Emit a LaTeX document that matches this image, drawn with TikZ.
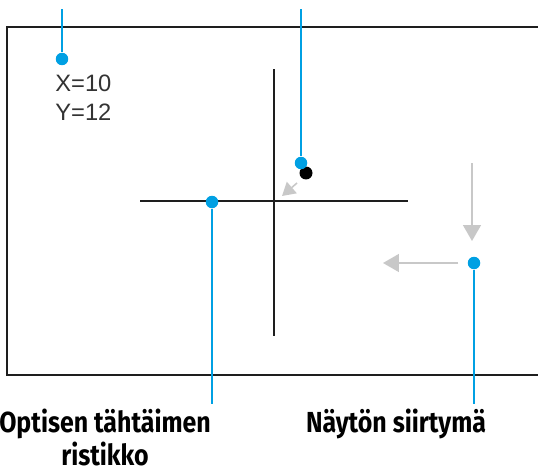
\documentclass[tikz,border=0pt]{standalone}
\usepackage{fontspec}
\usepackage{tikz}
\usetikzlibrary{arrows.meta,calc,positioning}
\setmainfont{Liberation Sans}
\newfontfamily\otsikko[FakeStretch=0.86]{Fira Sans}
\definecolor{kuvablue}{RGB}{0,160,227}
\definecolor{nuoligray}{RGB}{200,200,200}
\definecolor{viiva}{RGB}{30,30,30}
\tikzset{
  kehys/.style={
    draw=viiva,
    line width=1.4pt
  },
  risti/.style={
    draw=viiva,
    line width=1.1pt
  },
  piste/.style={
    circle,
    fill=kuvablue,
    inner sep=0pt,
    minimum size=.25cm
  },
  tahti/.style={
    circle,
    fill=black,
    inner sep=0pt,
    minimum size=.26cm
  },
  johto/.style={
    draw=kuvablue,
    line width=1.4pt
  },
  siirto/.style={
    -{Triangle[length=3.2mm,width=3.6mm]},
    draw=nuoligray,
    fill=nuoligray,
    line width=.9pt
  },
  arvo/.style={
    anchor=north west,
    inner sep=0pt,
    align=left,
    text=black!80,
    font=\fontsize{13.5}{16}\selectfont
  },
  selite/.style={
    anchor=north,
    inner sep=0pt,
    align=center,
    font=\otsikko\bfseries\fontsize{16.5}{18.3}\selectfont
  }
}

\begin{document}
\begin{tikzpicture}[x=.02cm,y=-.02cm]
\useasboundingbox (0,0) rectangle (538,470);
% naytto
\draw[kehys] (538,27) -- (7,27) -- (7,375) -- (538,375);
% ristikko
\draw[risti] (274,69) -- (274,336);
\draw[risti] (140,201) -- (408,201);
% pisteet
\node[piste] (xy) at (62,59) {};
\node[arvo] (koord) at (55,75) {X=10\\Y=12};
\node[tahti] (osuma) at (306,173) {};
\node[piste] (kohde) at (301,163) {};
\node[piste] (keski) at (212,202) {};
\node[piste] (siirt) at (474,263) {};
% siirtymanuolet
\draw[siirto, -{Triangle[length=2.6mm,width=3mm]}] (297,183) -- (282,196);
\draw[siirto] (472,163) -- (472,241);
\draw[siirto] (458,263) -- (383,263);
% johdot
\coordinate (y1) at (62,9);
\coordinate (y2) at (301,9);
\coordinate (a1) at (212,404);
\coordinate (a2) at (474,404);
\draw[johto] (y1) -- (xy);
\draw[johto] (y2) -- (kohde);
\draw[johto] (keski) -- (a1);
\draw[johto] (siirt) -- (a2);
% selitteet
\node[selite] (optinen) at (105,409) {Optisen tähtäimen\\ristikko};
\node[selite] (naytto) at (396,409) {Näytön siirtymä};
\end{tikzpicture}
\end{document}
